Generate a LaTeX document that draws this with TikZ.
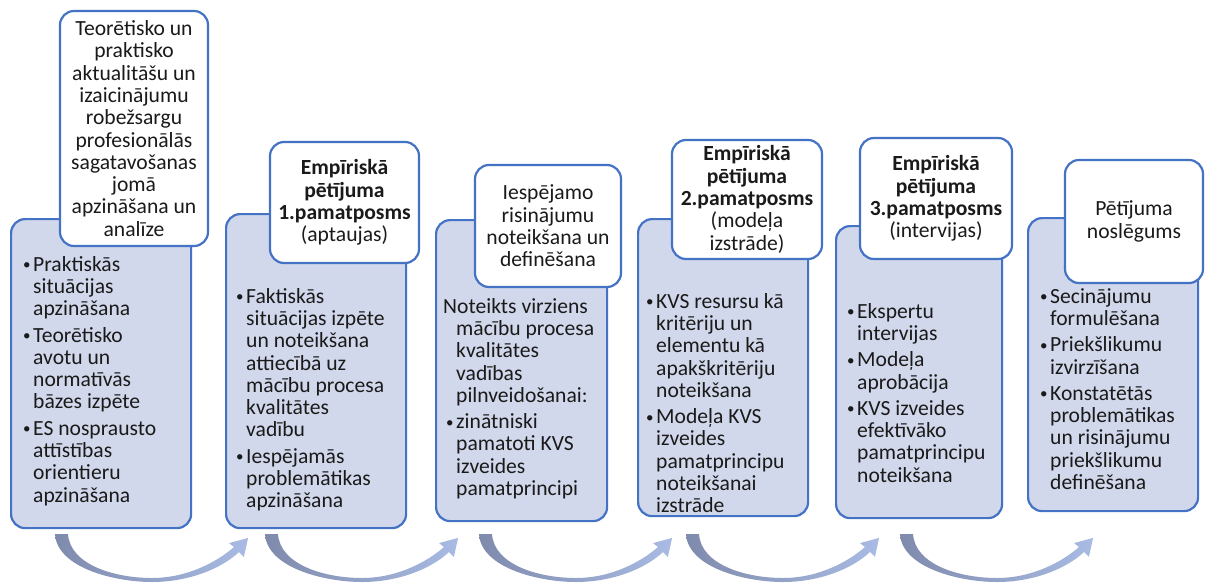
\documentclass[tikz,border=0pt]{standalone}
\usepackage{fontspec}
\setmainfont{Carlito}
\definecolor{bblue}{HTML}{4472C4}
\definecolor{lav}{HTML}{D2D8EB}
\definecolor{txt}{HTML}{1A1A1A}
\definecolor{arrdark}{HTML}{7F8BAD}
\definecolor{arrmid}{HTML}{CDD3E6}
\definecolor{arrlight}{HTML}{A9BBE4}
\newcommand\bodyfont{\fontsize{21.6}{22.3}\selectfont}
\newcommand\bl{\makebox[11pt][l]{\hspace*{1pt}\raisebox{1.6pt}{\fontsize{15}{15}\selectfont\textbullet}}}
\newcommand\ind{\hspace*{11pt}}
\tikzset{
  bigbox/.style={draw=bblue, line width=2.2pt, fill=lav, rounded corners=14pt, anchor=north west, inner sep=0pt},
  topbox/.style={draw=bblue, line width=2.2pt, fill=white, rounded corners=14pt, align=center, inner sep=0pt, font=\bodyfont, text=txt},
  bodytext/.style={anchor=north west, align=left, inner sep=0pt, font=\bodyfont, text=txt},
  cyclearrow/.pic={
    \shade[left color=arrdark, middle color=arrmid, right color=arrlight]
      (0,534) .. controls (2,568) and (60,582) .. (97,582)
      .. controls (133,582) and (166,569) .. (184,552)
      -- (188.9,556.9) -- (193.1,537.9) -- (174.1,543.1) -- (179,547)
      .. controls (162,562) and (132,578) .. (97,578)
      .. controls (60,578) and (15,565) .. (13,534) -- cycle;
  }
}
\begin{document}
\begin{tikzpicture}[x=1pt,y=-1pt]
\fill[white] (0,0) rectangle (1205,584);
\useasboundingbox (0,0) rectangle (1205,584);

% cycle arrows
\coordinate (a1) at (55,0);
\coordinate (a2) at (265,0);
\coordinate (a3) at (479,0);
\coordinate (a4) at (686,0);
\coordinate (a5) at (900,0);
\foreach \a in {a1,a2,a3,a4,a5} {\pic at (\a) {cyclearrow};}

% big boxes
\node[bigbox, minimum width=180pt, minimum height=309pt] (b1) at (10,218) {};
\node[bigbox, minimum width=180pt, minimum height=314pt] (b2) at (225,213) {};
\node[bigbox, minimum width=171pt, minimum height=301pt] (b3) at (435,219) {};
\node[bigbox, minimum width=170pt, minimum height=297pt] (b4) at (637,218) {};
\node[bigbox, minimum width=166pt, minimum height=292pt] (b5) at (835,225) {};
\node[bigbox, minimum width=170pt, minimum height=293pt] (b6) at (1027,217) {};

% top boxes
\node[topbox, minimum width=148pt, minimum height=235pt] (t1) at (134,128.5)
 {Teorētisko un\\praktisko\\aktualitāšu un\\izaicinājumu\\robežsargu\\profesionālās\\sagatavošanas\\jomā\\apzināšana un\\analīze};
\node[topbox, minimum width=149pt, minimum height=121pt] (t2) at (344.5,202.5)
 {\textbf{Empīriskā}\\\textbf{pētījuma}\\\textbf{1.pamatposms}\\(aptaujas)};
\node[topbox, minimum width=146pt, minimum height=122pt] (t3) at (548,226)
 {Iespējamo\\risinājumu\\noteikšana un\\definēšana};
\node[topbox, minimum width=150pt, minimum height=119pt] (t4) at (747,199.5)
 {\textbf{Empīriskā}\\\textbf{pētījuma}\\\textbf{2.pamatposms}\\(modeļa\\izstrāde)};
\node[topbox, minimum width=152pt, minimum height=121pt] (t5) at (936,198.5)
 {\textbf{Empīriskā}\\\textbf{pētījuma}\\\textbf{3.pamatposms}\\(intervijas)};
\node[topbox, minimum width=138pt, minimum height=123pt] (t6) at (1134,221.5)
 {Pētījuma\\noslēgums};

% body texts
\node[bodytext] (x1) at (22,255.3)
 {\strut\bl Praktiskās\\\ind situācijas\\\ind apzināšana\\[4pt]
  \bl Teorētisko\\\ind avotu un\\\ind normatīvās\\\ind bāzes izpēte\\[4pt]
  \bl ES nosprausto\\\ind attīstības\\\ind orientieru\\\ind apzināšana};
\node[bodytext] (x2) at (235,287.3)
 {\strut\bl Faktiskās\\\ind situācijas izpēte\\\ind un noteikšana\\\ind attiecībā uz\\\ind mācību procesa\\\ind kvalitātes\\\ind vadību\\[4pt]
  \bl Iespējamās\\\ind problemātikas\\\ind apzināšana};
\node[bodytext] (x3) at (443,297.3)
 {\strut Noteikts virziens\\\hspace*{13pt}mācību procesa\\\hspace*{13pt}kvalitātes\\\hspace*{13pt}vadības\\\hspace*{13pt}pilnveidošanai:\\[4pt]
  \hspace*{2pt}\bl zinātniski\\\hspace*{13pt}pamatoti KVS\\\hspace*{13pt}izveides\\\hspace*{13pt}pamatprincipi};
\node[bodytext] (x4) at (645,292.3)
 {\strut\bl KVS resursu kā\\\ind kritēriju un\\\ind elementu kā\\\ind apakškritēriju\\\ind noteikšana\\[4pt]
  \bl Modeļa KVS\\\ind izveides\\\ind pamatprincipu\\\ind noteikšanai\\\ind izstrāde};
\node[bodytext] (x5) at (846,302.3)
 {\strut\bl Ekspertu\\\ind intervijas\\[4pt]
  \bl Modeļa\\\ind aprobācija\\[4pt]
  \bl KVS izveides\\\ind efektīvāko\\\ind pamatprincipu\\\ind noteikšana};
\node[bodytext] (x6) at (1039,287.3)
 {\strut\bl Secinājumu\\\ind formulēšana\\[4pt]
  \bl Priekšlikumu\\\ind izvirzīšana\\[4pt]
  \bl Konstatētās\\\ind problemātikas\\\ind un risinājumu\\\ind priekšlikumu\\\ind definēšana};
\end{tikzpicture}
\end{document}
